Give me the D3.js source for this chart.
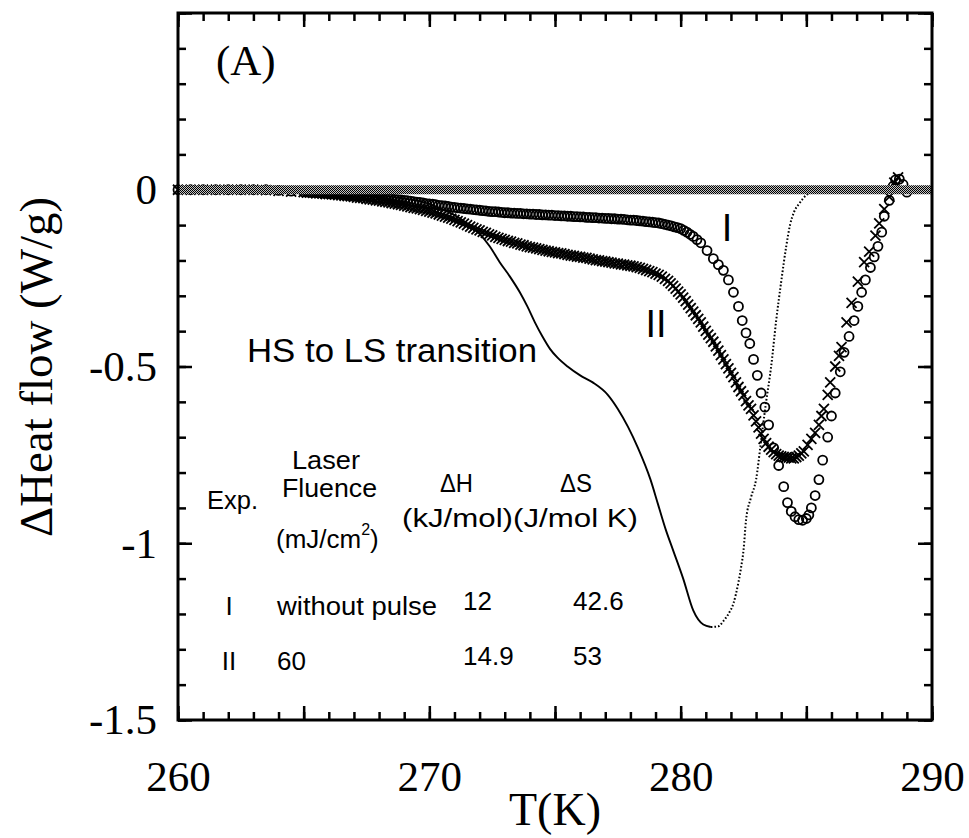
<!DOCTYPE html>
<html>
<head>
<meta charset="utf-8">
<script src="https://cdn.jsdelivr.net/npm/d3@7"></script>
<style>
  body { margin: 0; background: #fff; }
  svg { display: block; }
  .serif { font-family: "Liberation Serif", "Times New Roman", serif; }
  .sans { font-family: "Liberation Sans", Arial, Helvetica, sans-serif; }
</style>
</head>
<body>
<svg id="chart" width="969" height="838"></svg>
<script>
// ---- data --------------------------------------------------------------
const xTickLabels = [260, 270, 280, 290];
const yTickLabels = [0, -0.5, -1, -1.5];

// zero-flow baseline
const baselineTrace = [[260, 0], [290, 0]];

// thin trace: falling branch (continuous) and rising branch (sparse, dotted)
const thinFalling = [
  [260, 0], [262, 0], [264, -0.002], [266, -0.006], [267, -0.010], [268, -0.016],
  [269, -0.025], [270, -0.040], [270.5, -0.055], [271, -0.072], [271.5, -0.095],
  [272, -0.125], [272.4, -0.160], [272.8, -0.205], [273.2, -0.245], [273.6, -0.290],
  [273.9, -0.330], [274.2, -0.375], [274.5, -0.415], [274.8, -0.450], [275.1, -0.475],
  [275.5, -0.500], [276, -0.525], [276.5, -0.545], [277.1, -0.580], [277.5, -0.620],
  [277.9, -0.670], [278.3, -0.730], [278.8, -0.820], [279.1, -0.890], [279.4, -0.960],
  [279.7, -1.020], [280.1, -1.100], [280.5, -1.190], [280.9, -1.230], [281.2, -1.237]
];
const thinRising = [
  [281.2, -1.237], [281.5, -1.235], [281.7, -1.220], [281.9, -1.200], [282.1, -1.170],
  [282.3, -1.110], [282.4, -1.070], [282.5, -1.020], [282.6, -0.935], [282.8, -0.870],
  [283.0, -0.820], [283.2, -0.710], [283.4, -0.600], [283.6, -0.500], [283.8, -0.370],
  [284.0, -0.260], [284.2, -0.160], [284.35, -0.100], [284.5, -0.065], [284.75, -0.036],
  [285.0, -0.015], [285.3, -0.005], [285.8, 0]
];

// Exp. I: without pulse (open circles)
const seriesI = [
  [260, 0], [260.5, 0], [261, 0], [261.5, 0], [262, 0], [262.5, 0], [263, 0], [263.5, 0],
  [264, -0.002], [264.5, -0.004],
  [265, -0.006], [265.125, -0.006], [265.25, -0.007], [265.375, -0.007], [265.5, -0.008], [265.625, -0.008], [265.75, -0.009], [265.875, -0.009],
  [266, -0.010], [266.125, -0.010], [266.25, -0.011], [266.375, -0.011], [266.5, -0.012], [266.625, -0.013], [266.75, -0.014], [266.875, -0.014],
  [267, -0.015], [267.125, -0.016], [267.25, -0.017], [267.375, -0.017], [267.5, -0.018], [267.625, -0.019], [267.75, -0.020], [267.875, -0.021],
  [268, -0.022], [268.125, -0.023], [268.25, -0.024], [268.375, -0.025], [268.5, -0.026], [268.625, -0.027], [268.75, -0.028], [268.875, -0.029],
  [269, -0.030], [269.125, -0.031], [269.25, -0.032], [269.375, -0.034], [269.5, -0.035], [269.625, -0.036], [269.75, -0.037], [269.875, -0.039],
  [270, -0.040], [270.125, -0.041], [270.25, -0.042], [270.375, -0.044], [270.5, -0.045], [270.625, -0.046], [270.75, -0.047], [270.875, -0.049],
  [271, -0.050], [271.125, -0.051], [271.25, -0.052], [271.375, -0.053], [271.5, -0.054], [271.625, -0.055], [271.75, -0.056], [271.875, -0.057],
  [272, -0.058], [272.125, -0.059], [272.25, -0.060], [272.375, -0.061], [272.5, -0.062], [272.625, -0.062], [272.75, -0.063], [272.875, -0.064],
  [273, -0.065], [273.125, -0.065], [273.25, -0.066], [273.375, -0.066], [273.5, -0.067], [273.625, -0.067], [273.75, -0.068], [273.875, -0.068],
  [274, -0.069], [274.125, -0.069], [274.25, -0.070], [274.375, -0.070], [274.5, -0.071], [274.625, -0.071], [274.75, -0.072], [274.875, -0.072],
  [275, -0.073], [275.125, -0.073], [275.25, -0.074], [275.375, -0.074], [275.5, -0.075], [275.625, -0.075], [275.75, -0.076], [275.875, -0.076],
  [276, -0.077], [276.125, -0.077], [276.25, -0.078], [276.375, -0.078], [276.5, -0.079], [276.625, -0.079], [276.75, -0.080], [276.875, -0.080],
  [277, -0.081], [277.125, -0.081], [277.25, -0.082], [277.375, -0.082], [277.5, -0.083], [277.625, -0.083], [277.75, -0.084], [277.875, -0.085],
  [278, -0.086], [278.125, -0.086], [278.25, -0.087], [278.375, -0.088], [278.5, -0.089], [278.625, -0.090], [278.75, -0.091], [278.875, -0.092],
  [279, -0.093], [279.125, -0.094], [279.25, -0.096], [279.375, -0.098], [279.5, -0.100], [279.625, -0.102], [279.75, -0.105], [279.875, -0.107],
  [280, -0.110], [280.125, -0.115], [280.25, -0.120], [280.375, -0.126], [280.5, -0.132], [280.65, -0.141], [280.8, -0.150],
  [281.05, -0.172], [281.3, -0.195], [281.5, -0.212], [281.7, -0.228],
  [281.9, -0.255], [282.1, -0.290], [282.3, -0.330], [282.45, -0.370], [282.6, -0.405],
  [282.75, -0.435], [282.9, -0.480], [283.05, -0.525], [283.2, -0.575], [283.35, -0.615],
  [283.5, -0.665], [283.7, -0.730], [283.9, -0.780], [284.1, -0.840], [284.25, -0.885],
  [284.4, -0.910], [284.55, -0.925], [284.7, -0.933], [284.85, -0.935], [285.0, -0.930],
  [285.1, -0.920], [285.2, -0.900], [285.35, -0.865], [285.5, -0.820], [285.65, -0.765],
  [285.85, -0.700], [286.0, -0.640], [286.15, -0.575], [286.35, -0.515], [286.5, -0.460],
  [286.7, -0.415], [286.9, -0.370], [287.05, -0.330], [287.2, -0.290], [287.35, -0.255],
  [287.55, -0.220], [287.7, -0.190], [287.85, -0.160], [288.0, -0.120], [288.1, -0.075],
  [288.3, -0.030], [288.45, 0.010], [288.55, 0.028], [288.7, 0.030], [288.85, 0.015],
  [289.0, -0.007]
];

// Exp. II: 60 mJ/cm2 (crosses)
const seriesII = [
  [260, 0], [260.5, 0], [261, 0], [261.5, 0], [262, 0], [262.5, 0], [263, 0], [263.5, -0.001],
  [264, -0.003], [264.5, -0.005],
  [265, -0.007], [265.125, -0.008], [265.25, -0.008], [265.375, -0.009], [265.5, -0.010], [265.625, -0.010], [265.75, -0.011], [265.875, -0.012],
  [266, -0.012], [266.125, -0.013], [266.25, -0.014], [266.375, -0.015], [266.5, -0.016], [266.625, -0.017], [266.75, -0.018], [266.875, -0.019],
  [267, -0.020], [267.125, -0.022], [267.25, -0.023], [267.375, -0.024], [267.5, -0.026], [267.625, -0.027], [267.75, -0.028], [267.875, -0.030],
  [268, -0.031], [268.125, -0.033], [268.25, -0.034], [268.375, -0.036], [268.5, -0.038], [268.625, -0.039], [268.75, -0.041], [268.875, -0.043],
  [269, -0.045], [269.125, -0.047], [269.25, -0.049], [269.375, -0.051], [269.5, -0.053], [269.625, -0.055], [269.75, -0.057], [269.875, -0.060],
  [270, -0.062], [270.125, -0.065], [270.25, -0.067], [270.375, -0.070], [270.5, -0.073], [270.625, -0.076], [270.75, -0.079], [270.875, -0.082],
  [271, -0.085], [271.125, -0.089], [271.25, -0.092], [271.375, -0.096], [271.5, -0.100], [271.625, -0.104], [271.75, -0.108], [271.875, -0.112],
  [272, -0.115], [272.125, -0.119], [272.25, -0.122], [272.375, -0.126], [272.5, -0.129], [272.625, -0.133], [272.75, -0.136], [272.875, -0.139],
  [273, -0.142], [273.125, -0.145], [273.25, -0.147], [273.375, -0.150], [273.5, -0.152], [273.625, -0.155], [273.75, -0.157], [273.875, -0.160],
  [274, -0.162], [274.125, -0.164], [274.25, -0.166], [274.375, -0.168], [274.5, -0.170], [274.625, -0.172], [274.75, -0.174], [274.875, -0.176],
  [275, -0.177], [275.125, -0.179], [275.25, -0.180], [275.375, -0.182], [275.5, -0.184], [275.625, -0.186], [275.75, -0.187], [275.875, -0.189],
  [276, -0.190], [276.125, -0.192], [276.25, -0.193], [276.375, -0.195], [276.5, -0.197], [276.625, -0.199], [276.75, -0.200], [276.875, -0.202],
  [277, -0.203], [277.125, -0.205], [277.25, -0.206], [277.375, -0.208], [277.5, -0.209], [277.625, -0.211], [277.75, -0.212], [277.875, -0.214],
  [278, -0.215], [278.125, -0.217], [278.25, -0.219], [278.375, -0.221], [278.5, -0.224], [278.625, -0.227], [278.75, -0.230], [278.875, -0.233],
  [279, -0.237], [279.125, -0.241], [279.25, -0.246], [279.375, -0.252], [279.5, -0.258],
  [279.6, -0.265], [279.7, -0.272], [279.8, -0.280], [279.9, -0.288], [280.0, -0.296], [280.1, -0.305], [280.2, -0.315], [280.3, -0.325],
  [280.4, -0.335], [280.5, -0.345], [280.6, -0.355], [280.7, -0.365], [280.8, -0.375], [280.9, -0.387], [281.0, -0.399], [281.1, -0.410],
  [281.2, -0.420], [281.3, -0.430], [281.4, -0.443], [281.5, -0.455], [281.6, -0.468], [281.7, -0.480], [281.8, -0.493], [281.9, -0.505],
  [282.0, -0.518], [282.1, -0.530], [282.2, -0.545], [282.3, -0.558], [282.4, -0.570], [282.5, -0.582], [282.6, -0.598], [282.7, -0.610],
  [282.8, -0.620], [282.9, -0.638], [283.0, -0.655], [283.1, -0.672], [283.2, -0.690], [283.3, -0.705], [283.4, -0.717], [283.5, -0.727],
  [283.6, -0.735], [283.7, -0.742], [283.8, -0.748], [283.9, -0.752], [284.0, -0.754], [284.1, -0.756], [284.2, -0.757], [284.3, -0.758],
  [284.4, -0.760], [284.5, -0.760], [284.6, -0.756], [284.7, -0.752], [284.8, -0.746], [284.9, -0.740],
  [285.05, -0.722], [285.2, -0.705], [285.35, -0.688], [285.5, -0.665], [285.6, -0.640],
  [285.7, -0.620], [285.85, -0.580], [285.95, -0.545], [286.15, -0.500], [286.3, -0.470],
  [286.4, -0.445], [286.6, -0.375], [286.8, -0.320], [287.05, -0.260], [287.3, -0.205],
  [287.5, -0.175], [287.75, -0.130], [287.9, -0.095], [288.1, -0.055], [288.3, -0.020],
  [288.5, 0.020], [288.65, 0.035]
];

// inset table
const tableExp = ["I", "II"];
const tableFluence = ["without pulse", "60"];
const tableDeltaH = ["12", "14.9"];
const tableDeltaS = ["42.6", "53"];

// ---- layout ------------------------------------------------------------
const svg = d3.select("#chart");
const plot = { left: 178, right: 932, top: 13, bottom: 720 };

const x = d3.scaleLinear().domain([260, 290]).range([plot.left, plot.right]);
const y = d3.scaleLinear().domain([-1.5, 0.5]).range([plot.bottom, plot.top]);

const defs = svg.append("defs");
const checker = defs.append("pattern")
  .attr("id", "checker").attr("width", 2).attr("height", 2)
  .attr("patternUnits", "userSpaceOnUse");
checker.append("rect").attr("width", 2).attr("height", 2).attr("fill", "#c4c4c4");
checker.append("rect").attr("width", 1).attr("height", 1).attr("fill", "#000");
checker.append("rect").attr("x", 1).attr("y", 1).attr("width", 1).attr("height", 1).attr("fill", "#000");

// ---- axes (ticks point inward on all four sides) ------------------------
const minorX = d3.range(260, 291, 1);
const majorX = d3.range(260, 291, 5);
const minorY = d3.range(-15, 6, 1).map(d => d / 10);
const majorY = [-1.5, -1, -0.5, 0, 0.5];

function styleAxis(g) {
  g.select(".domain").remove();
  g.selectAll(".tick line").attr("stroke", "#000").attr("stroke-width", 2.5);
}

// bottom
svg.append("g").attr("transform", `translate(0,${plot.bottom})`)
  .call(d3.axisBottom(x).tickValues(minorX).tickSize(-8).tickFormat(""))
  .call(styleAxis);
svg.append("g").attr("transform", `translate(0,${plot.bottom})`)
  .call(d3.axisBottom(x).tickValues(majorX).tickSize(-14).tickPadding(40)
    .tickFormat(d => xTickLabels.includes(d) ? String(d) : ""))
  .call(styleAxis)
  .call(g => g.selectAll("text").attr("class", "serif")
    .attr("font-family", null).attr("font-size", 43).attr("fill", "#000"));
// top
svg.append("g").attr("transform", `translate(0,${plot.top})`)
  .call(d3.axisTop(x).tickValues(minorX).tickSize(-8).tickFormat(""))
  .call(styleAxis);
svg.append("g").attr("transform", `translate(0,${plot.top})`)
  .call(d3.axisTop(x).tickValues(majorX).tickSize(-14).tickFormat(""))
  .call(styleAxis);
// left
svg.append("g").attr("transform", `translate(${plot.left},0)`)
  .call(d3.axisLeft(y).tickValues(minorY).tickSize(-8).tickFormat(""))
  .call(styleAxis);
svg.append("g").attr("transform", `translate(${plot.left},0)`)
  .call(d3.axisLeft(y).tickValues(majorY).tickSize(-14).tickPadding(21)
    .tickFormat(d => yTickLabels.includes(d) ? String(d) : ""))
  .call(styleAxis)
  .call(g => g.selectAll("text").attr("class", "serif")
    .attr("font-family", null).attr("font-size", 43).attr("fill", "#000"));
// right
svg.append("g").attr("transform", `translate(${plot.right},0)`)
  .call(d3.axisRight(y).tickValues(minorY).tickSize(-8).tickFormat(""))
  .call(styleAxis);
svg.append("g").attr("transform", `translate(${plot.right},0)`)
  .call(d3.axisRight(y).tickValues(majorY).tickSize(-14).tickFormat(""))
  .call(styleAxis);

// ---- curves -----------------------------------------------------------
const line = d3.line().x(d => x(d[0])).y(d => y(d[1])).curve(d3.curveMonotoneX);

svg.append("path").datum(thinFalling)
  .attr("d", line).attr("fill", "none").attr("stroke", "#000").attr("stroke-width", 1.9);
svg.append("path").datum(thinRising)
  .attr("d", line).attr("fill", "none").attr("stroke", "#000").attr("stroke-width", 2)
  .attr("stroke-dasharray", "1.6,2");

svg.append("g").selectAll("circle").data(seriesI).join("circle")
  .attr("cx", d => x(d[0])).attr("cy", d => y(d[1])).attr("r", 4.5)
  .attr("fill", "none").attr("stroke", "#000").attr("stroke-width", 1.8);

svg.append("g").selectAll("path").data(seriesII).join("path")
  .attr("transform", d => `translate(${x(d[0])},${y(d[1])})`)
  .attr("d", "M-5,-5L5,5M-5,5L5,-5")
  .attr("fill", "none").attr("stroke", "#000").attr("stroke-width", 1.8);

// zero baseline band drawn over the flat parts of the runs
svg.append("path").datum(baselineTrace)
  .attr("d", d3.line().x(d => x(d[0])).y(d => y(d[1])))
  .attr("fill", "none").attr("stroke", "url(#checker)").attr("stroke-width", 9);

// frame
svg.append("rect")
  .attr("x", plot.left).attr("y", plot.top)
  .attr("width", plot.right - plot.left).attr("height", plot.bottom - plot.top)
  .attr("fill", "none").attr("stroke", "#000").attr("stroke-width", 3);

// ---- titles -------------------------------------------------------------
svg.append("text").attr("class", "serif")
  .attr("x", (plot.left + plot.right) / 2).attr("y", 825)
  .attr("text-anchor", "middle").attr("font-size", 46).text("T(K)");

svg.append("text").attr("class", "serif")
  .attr("transform", "translate(52,367) rotate(-90)")
  .attr("text-anchor", "middle").attr("font-size", 46)
  .attr("textLength", 340).attr("lengthAdjust", "spacingAndGlyphs")
  .text("\u0394Heat flow (W/g)");

svg.append("text").attr("class", "serif")
  .attr("x", 216).attr("y", 75).attr("font-size", 43).text("(A)");

// ---- annotations ----------------------------------------------------------
function note(txt, px, py, size, opts = {}) {
  const t = svg.append("text").attr("class", "sans")
    .attr("x", px).attr("y", py).attr("font-size", size).attr("fill", "#000")
    .attr("text-anchor", opts.anchor || "start").text(txt);
  if (opts.width) t.attr("textLength", opts.width).attr("lengthAdjust", "spacingAndGlyphs");
  return t;
}

note("I", 727, 241, 38, { anchor: "middle" });
note("II", 656, 337, 38, { anchor: "middle" });
note("HS to LS transition", 247, 362, 34, { width: 290 });

// table header
note("Exp.", 207, 509, 26, { width: 51 });
note("Laser", 292, 469, 26, { width: 68 });
note("Fluence", 282, 497, 26, { width: 95 });
const unit = svg.append("text").attr("class", "sans")
  .attr("x", 276).attr("y", 548).attr("font-size", 26).attr("fill", "#000");
unit.append("tspan").text("(mJ/cm");
unit.append("tspan").attr("font-size", 16).attr("dy", -13).text("2");
unit.append("tspan").attr("dy", 13).text(")");
note("\u0394H", 440, 492, 26, { width: 33 });
note("\u0394S", 560, 492, 26, { width: 32 });
note("(kJ/mol)", 402, 527, 26, { width: 111 });
note("(J/mol K)", 513, 527, 26, { width: 125 });

// table rows
const rowExpY = [615, 670];
const rowValY = [610, 665];
tableExp.forEach((v, i) => note(v, 229, rowExpY[i], 26, { anchor: "middle" }));
tableFluence.forEach((v, i) => note(v, 277, rowExpY[i], 26, i === 0 ? { width: 160 } : {}));
tableDeltaH.forEach((v, i) => note(v, 463, rowValY[i], 26));
tableDeltaS.forEach((v, i) => note(v, 573, rowValY[i], 26));
</script>
</body>
</html>
